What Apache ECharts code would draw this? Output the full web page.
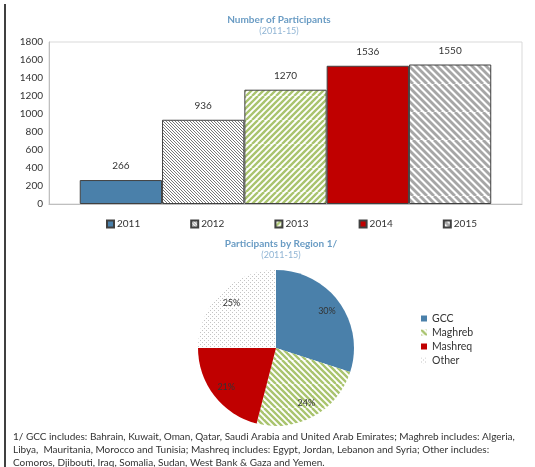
<!DOCTYPE html>
<html><head><meta charset="utf-8">
<script src="https://cdn.jsdelivr.net/npm/echarts@6/dist/echarts.min.js"></script>
<style>html,body{margin:0;padding:0;background:#fff}#c{width:535px;height:467px}</style>
</head><body><div id="c"></div>
<script>
const years = ['2011','2012','2013','2014','2015'];
const participants = [266, 936, 1270, 1536, 1550];
const yTicks = [0, 200, 400, 600, 800, 1000, 1200, 1400, 1600, 1800];
const regions = ['GCC','Maghreb','Mashreq','Other'];
const regionShares = [30, 24, 21, 25];
const footnote = '1/ GCC includes: Bahrain, Kuwait, Oman, Qatar, Saudi Arabia and United Arab Emirates; Maghreb includes: Algeria,\nLibya,  Mauritania, Morocco and Tunisia; Mashreq includes: Egypt, Jordan, Lebanon and Syria; Other includes:\nComoros, Djibouti, Iraq, Somalia, Sudan, West Bank & Gaza and Yemen.';

// diagonal stripe tile: period p (horizontal), drawn on a larger tile for seamless wrap
function stripes(color, p, lw, dir) {
  const s = p * 4;
  const c = document.createElement('canvas');
  c.width = s; c.height = s;
  const g = c.getContext('2d');
  g.fillStyle = '#fff'; g.fillRect(0,0,s,s);
  g.strokeStyle = color; g.lineWidth = lw;
  for (let k = -s; k <= s; k += p) {
    g.beginPath();
    if (dir === '/') { g.moveTo(k, s); g.lineTo(k + s, 0); }
    else { g.moveTo(k, 0); g.lineTo(k + s, s); }
    g.stroke();
  }
  return {image: c, repeat: 'repeat'};
}
function dots(color) {
  const c = document.createElement('canvas');
  c.width = 4; c.height = 4;
  const g = c.getContext('2d');
  g.fillStyle = '#fff'; g.fillRect(0,0,4,4);
  g.fillStyle = color; g.fillRect(0,0,1,1); g.fillRect(2,2,1,1);
  return {image: c, repeat: 'repeat'};
}
const BLUE = '#4a80aa', RED = '#c00000';
const barFills = [BLUE, stripes('#555', 3, 0.8, '\\'), stripes('#a9c46e', 6, 2.4, '/'), RED, stripes('#a6a6a6', 7, 2.8, '\\')];
const pieFills = [BLUE, stripes('#a9c46e', 6, 2.4, '\\'), RED, dots('#c4c4c4')];

const FONT = 'Lato';
const chart = echarts.init(document.getElementById('c'), null, {renderer: 'canvas'});
const cx = 276, cy = 348;
chart.setOption({
  animation: false,
  textStyle: {fontFamily: FONT},
  title: [
    {text: 'Number of Participants', subtext: '(2011-15)', left: 274, textAlign: 'center', top: 10, itemGap: 2,
     textStyle: {fontSize: 10, fontWeight: 'bold', color: '#6a9cc4', fontFamily: FONT},
     subtextStyle: {fontSize: 9, color: '#8fb4d4', fontFamily: FONT}},
    {text: 'Participants by Region 1/', subtext: '(2011-15)', left: 276, textAlign: 'center', top: 234, itemGap: 2,
     textStyle: {fontSize: 10, fontWeight: 'bold', color: '#6a9cc4', fontFamily: FONT},
     subtextStyle: {fontSize: 9, color: '#8fb4d4', fontFamily: FONT}}
  ],
  grid: {left: 49, right: 13, top: 42, height: 162, show: true, borderColor: '#d9d9d9', borderWidth: 1, backgroundColor: '#fff'},
  xAxis: {type: 'category', data: [''], axisTick: {show: false}, axisLabel: {show: false},
          axisLine: {lineStyle: {color: '#bfbfbf'}}},
  yAxis: {type: 'value', min: yTicks[0], max: yTicks[yTicks.length-1], interval: yTicks[1]-yTicks[0],
          splitLine: {show: false}, axisLine: {show: true, lineStyle: {color: '#bfbfbf'}}, axisTick: {show: false},
          axisLabel: {fontSize: 10, color: '#333', margin: 6, fontFamily: FONT, formatter: v => String(v)}},
  legend: [
    {data: years, left: 101, top: 214, itemWidth: 7, itemHeight: 7, itemGap: 50, icon: 'rect',
     textStyle: {fontSize: 10, color: '#333', fontFamily: FONT, padding: [0,0,0,-2]}},
    {data: regions, orient: 'vertical', left: 416, top: 308, itemWidth: 6, itemHeight: 6, itemGap: 3, icon: 'rect',
     textStyle: {fontSize: 10.5, color: '#333', fontFamily: FONT}}
  ],
  graphic: [
    {type: 'line', shape: {x1: 5, y1: 4, x2: 5, y2: 467}, style: {stroke: '#000', lineWidth: 1.5}},
    {type: 'text', left: 13, top: 430, style: {text: footnote, font: '10px ' + FONT, fill: '#333', lineHeight: 13}}
  ],
  series: years.map((y, i) => ({
    type: 'bar', name: y, data: [participants[i]], barGap: '0%', barCategoryGap: '13%',
    itemStyle: {color: barFills[i], borderColor: '#404040', borderWidth: 1},
    label: {show: true, position: 'top', distance: 9, fontSize: 10, color: '#333', fontFamily: FONT}
  })).concat([{
    type: 'pie', center: [cx, cy], radius: 78, startAngle: 90, clockwise: true,
    data: regions.map((r, i) => ({name: r, value: regionShares[i], itemStyle: {color: pieFills[i]}})),
    label: {show: true, position: 'inside', formatter: '{c}%', fontSize: 9, color: '#333', fontFamily: FONT},
    labelLayout: function (p) {
      const r = p.labelRect;
      const lx = r.x + r.width / 2, ly = r.y + r.height / 2;
      return {x: cx + (lx - cx) * 1.5, y: cy + (ly - cy) * 1.5, align: 'center', verticalAlign: 'middle'};
    },
    emphasis: {disabled: true}
  }])
});
</script></body></html>
